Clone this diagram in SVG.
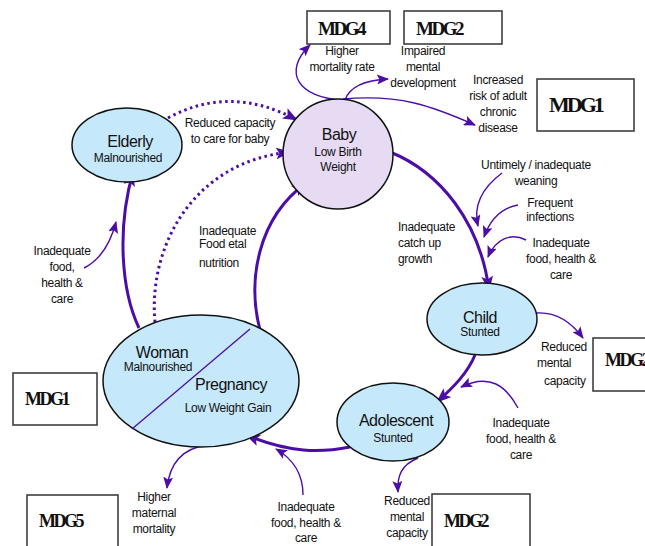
<svg xmlns="http://www.w3.org/2000/svg" width="645" height="546" viewBox="0 0 645 546">
<style>
.lbl{font-family:"Liberation Sans",Arial,sans-serif;font-size:12px;fill:#111;letter-spacing:-0.3px;text-anchor:middle}
.lbl.l{text-anchor:start}
.title{font-family:"Liberation Sans",Arial,sans-serif;font-size:16px;fill:#111;letter-spacing:-0.5px;text-anchor:middle}
.sub{font-family:"Liberation Sans",Arial,sans-serif;font-size:12px;fill:#111;letter-spacing:-0.3px;text-anchor:middle}
.mdg{font-family:"Liberation Serif","Times New Roman",serif;font-weight:bold;font-size:18px;fill:#111;letter-spacing:-2.5px}
.box{fill:#fff;stroke:#333;stroke-width:1.5}
.node{stroke:#111;stroke-width:1.5}
.blue{fill:#c6e8fb}
.lav{fill:#e6dbf3}
.thick{fill:none;stroke:#4c0ca8;stroke-width:3;marker-end:url(#ah)}
.dot{fill:none;stroke:#4c0ca8;stroke-width:3;stroke-dasharray:2.5 3.5;marker-end:url(#ah)}
.thin{fill:none;stroke:#4c0ca8;stroke-width:1.4;marker-end:url(#as)}
</style>
<defs>
<marker id="ah" viewBox="0 0 14 11" markerWidth="15" markerHeight="12" refX="13" refY="5.5" orient="auto" markerUnits="userSpaceOnUse">
<path d="M0,0 L14,5.5 L0,11 L3,5.5 Z" fill="#4c0ca8"/>
</marker>
<marker id="as" viewBox="0 0 12 10" markerWidth="12" markerHeight="10" refX="11" refY="5" orient="auto" markerUnits="userSpaceOnUse">
<path d="M0,0 L12,5 L0,10 L2.5,5 Z" fill="#4c0ca8"/>
</marker>
</defs>
<rect width="645" height="546" fill="#fff"/>

<g id="mdg-boxes">
<g id="mdg4"><rect class="box" x="307" y="11" width="83" height="33"/><text class="mdg" x="318" y="35" style="font-size:19px">MDG4</text></g>
<g id="mdg2-top"><rect class="box" x="404" y="11" width="98" height="33"/><text class="mdg" x="416" y="35" style="font-size:19px">MDG2</text></g>
<g id="mdg1-right"><rect class="box" x="537" y="79" width="97" height="52"/><text class="mdg" x="549" y="112" style="font-size:22px;letter-spacing:-3px">MDG1</text></g>
<g id="mdg2-right"><rect class="box" x="593" y="338" width="60" height="53"/><text class="mdg" x="605" y="366">MDG2</text></g>
<g id="mdg1-left"><rect class="box" x="13" y="373" width="84" height="52"/><text class="mdg" x="25" y="405">MDG1</text></g>
<g id="mdg5"><rect class="box" x="27" y="495" width="91" height="60"/><text class="mdg" x="39" y="527">MDG5</text></g>
<g id="mdg2-bottom"><rect class="box" x="432" y="494" width="98" height="60"/><text class="mdg" x="444" y="527">MDG2</text></g>
</g>

<g id="connectors">
<path class="thick" d="M390 152 C440 172 480 222 489 290"/>
<path class="thick" d="M475 355 C468 372 455 386 437 402"/>
<path class="thick" d="M350 447 C320 453 290 453 246 435"/>
<path class="thick" d="M260 330 C247 280 258 218 306 183"/>
<path class="thick" d="M139 328 C121 290 117 228 133 172"/>
<path class="dot" d="M168 118 Q230 84 297 120"/>
<path class="dot" d="M155 322 C148 248 192 162 290 152"/>
<path class="thin" d="M343 100 C298 98 282 72 310 45"/>
<path class="thin" d="M345 100 C350 86 366 80 388 79"/>
<path class="thin" d="M343 99 C400 94 432 106 475 125"/>
<path class="thin" d="M502 173 C482 188 473 205 478 226"/>
<path class="thin" d="M518 205 C501 208 490 220 484 237"/>
<path class="thin" d="M526 240 C510 232 495 240 488 257"/>
<path class="thin" d="M537 313 C555 312 571 322 583 338"/>
<path class="thin" d="M518 408 C506 386 490 373 461 387"/>
<path class="thin" d="M418 458 C401 465 397 476 398 492"/>
<path class="thin" d="M303 495 C303 475 295 460 276 449"/>
<path class="thin" d="M207 445 C185 448 170 460 167 488"/>
<path class="thin" d="M84 268 C100 260 110 245 116 222"/>
</g>

<g id="elderly">
<ellipse class="node blue" cx="127" cy="145" rx="55" ry="37"/>
<text class="title" x="130" y="147">Elderly</text>
<text class="sub" x="128" y="162">Malnourished</text>
</g>

<g id="baby">
<circle class="node lav" cx="338" cy="154" r="55"/>
<text class="title" x="339" y="140">Baby</text>
<text class="sub" x="338" y="156">Low Birth</text>
<text class="sub" x="338" y="171">Weight</text>
</g>

<g id="child">
<ellipse class="node blue" cx="482" cy="319" rx="55" ry="36"/>
<text class="title" x="480" y="323">Child</text>
<text class="sub" x="480" y="336">Stunted</text>
</g>

<g id="adolescent">
<ellipse class="node blue" cx="393" cy="422" rx="56" ry="39"/>
<text class="title" x="396" y="426">Adolescent</text>
<text class="sub" x="393" y="442">Stunted</text>
</g>

<g id="woman-pregnancy">
<ellipse class="node blue" cx="201" cy="381" rx="98" ry="66"/>
<line x1="250" y1="329" x2="132" y2="429" stroke="#4c0ca8" stroke-width="1.3"/>
<text class="title" x="162" y="358">Woman</text>
<text class="sub" x="158" y="371">Malnourished</text>
<text class="title" x="231" y="390">Pregnancy</text>
<text class="sub" x="228" y="412">Low Weight Gain</text>
</g>

<g id="labels">
<text class="lbl" x="342" y="55">Higher</text>
<text class="lbl" x="342" y="71">mortality rate</text>
<text class="lbl" x="423" y="55">Impaired</text>
<text class="lbl" x="423" y="71">mental</text>
<text class="lbl" x="423" y="87">development</text>
<text class="lbl" x="498" y="84">Increased</text>
<text class="lbl" x="498" y="100">risk of adult</text>
<text class="lbl" x="498" y="116">chronic</text>
<text class="lbl" x="498" y="132">disease</text>
<text class="lbl" x="230" y="127">Reduced capacity</text>
<text class="lbl" x="230" y="143">to care for baby</text>
<text class="lbl" x="536" y="169">Untimely / inadequate</text>
<text class="lbl" x="536" y="185">weaning</text>
<text class="lbl" x="550" y="207">Frequent</text>
<text class="lbl" x="550" y="221">infections</text>
<text class="lbl" x="561" y="247">Inadequate</text>
<text class="lbl" x="561" y="263">food, health &amp;</text>
<text class="lbl" x="561" y="279">care</text>
<text class="lbl l" x="398" y="231">Inadequate</text>
<text class="lbl l" x="398" y="247">catch up</text>
<text class="lbl l" x="398" y="263">growth</text>
<text class="lbl l" x="541" y="351">Reduced</text>
<text class="lbl l" x="537" y="367">mental</text>
<text class="lbl l" x="544" y="385">capacity</text>
<text class="lbl" x="521" y="427">Inadequate</text>
<text class="lbl" x="521" y="443">food, health &amp;</text>
<text class="lbl" x="521" y="459">care</text>
<text class="lbl" x="407" y="505">Reduced</text>
<text class="lbl" x="407" y="521">mental</text>
<text class="lbl" x="407" y="537">capacity</text>
<text class="lbl" x="306" y="511">Inadequate</text>
<text class="lbl" x="306" y="527">food, health &amp;</text>
<text class="lbl" x="306" y="542">care</text>
<text class="lbl" x="154" y="501">Higher</text>
<text class="lbl" x="154" y="517">maternal</text>
<text class="lbl" x="154" y="533">mortality</text>
<text class="lbl" x="62" y="255">Inadequate</text>
<text class="lbl" x="62" y="271">food,</text>
<text class="lbl" x="62" y="287">health &amp;</text>
<text class="lbl" x="62" y="303">care</text>
<text class="lbl l" x="199" y="235">Inadequate</text>
<text class="lbl l" x="199" y="248">Food etal</text>
<text class="lbl l" x="199" y="267">nutrition</text>
</g>
</svg>
